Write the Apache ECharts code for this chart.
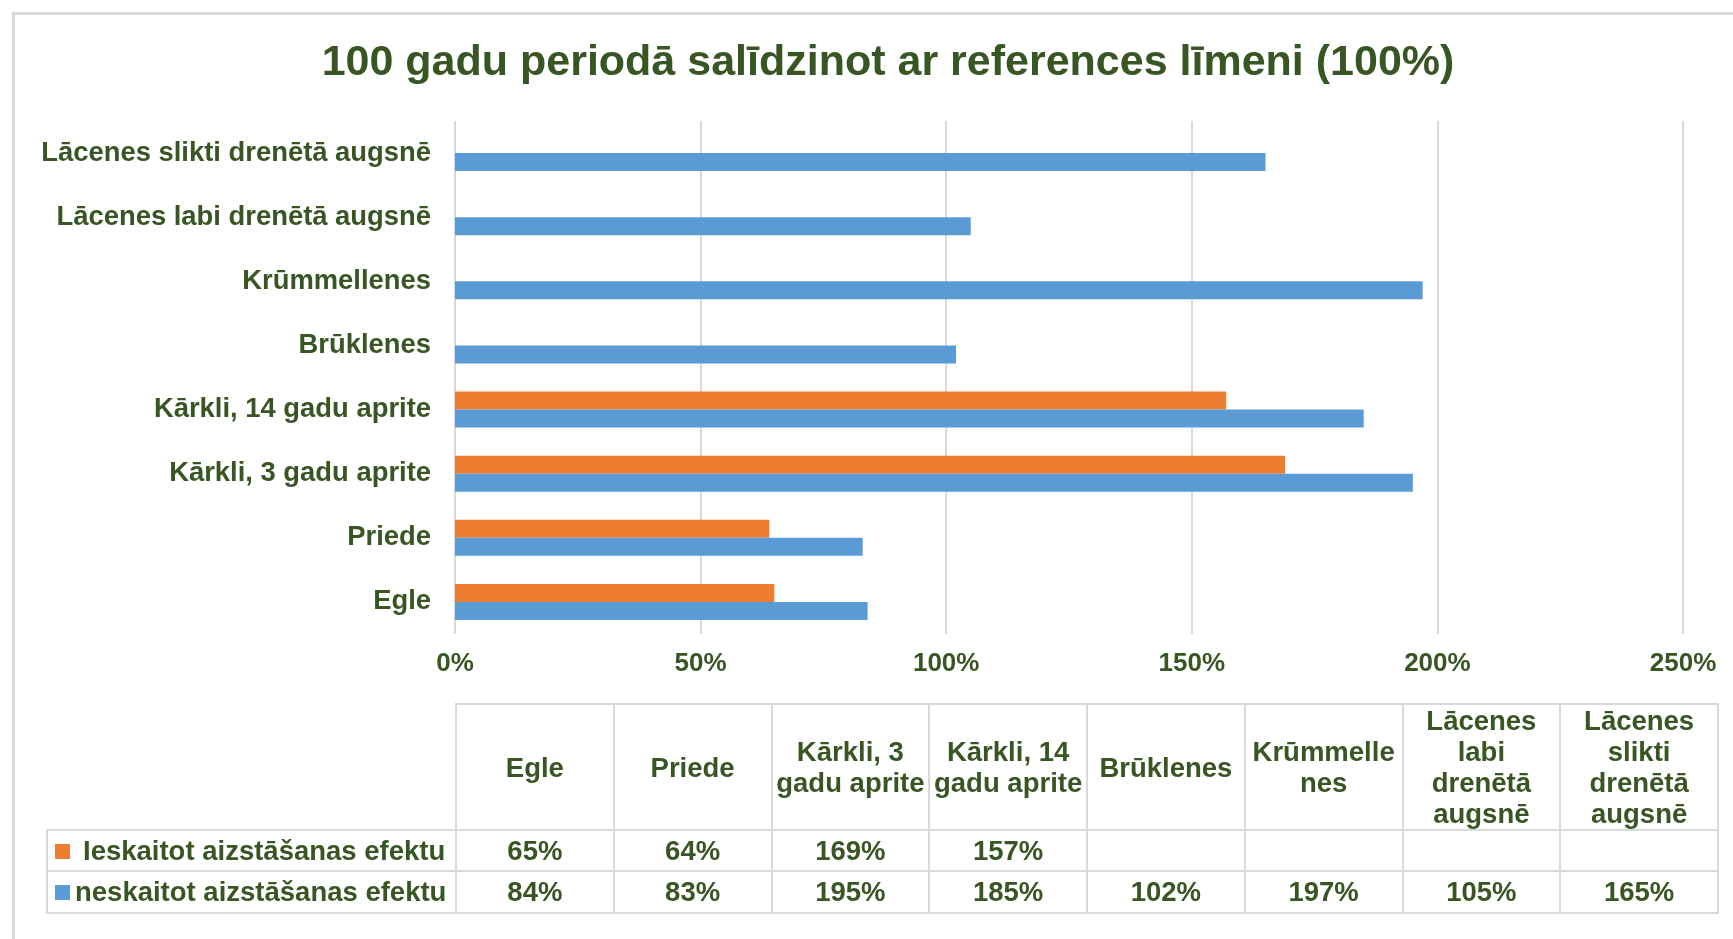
<!DOCTYPE html>
<html>
<head>
<meta charset="utf-8">
<script src="https://cdn.jsdelivr.net/npm/echarts@6/dist/echarts.min.js"></script>
<style>
  html, body { margin: 0; padding: 0; background: #fff; }
  #frame { position: absolute; left: 12px; top: 12px; width: 1760px; height: 980px;
           border: 3px solid #d9d9d9; box-sizing: border-box; }
  #main { position: absolute; left: 0; top: 0; width: 1733px; height: 939px; }
  #tbl { position: absolute; left: 46px; top: 703px; border-collapse: collapse; table-layout: fixed;
         font-family: "Liberation Sans", Arial, sans-serif; font-weight: bold; font-size: 27.5px;
         color: #375623; }
  #tbl td { border: 2px solid #d9d9d9; text-align: center; padding: 0; white-space: nowrap; overflow: hidden; }
  #tbl tr.head td { height: 124px; line-height: 31px; }
  #tbl tr.r1 td { height: 39px; }
  #tbl tr.r2 td { height: 40px; }
  #tbl td.corner { border: none; }
  #tbl td.lab { text-align: left; padding-left: 7px; }
  .key { display: inline-block; width: 15px; height: 15px; vertical-align: 1px; }
</style>
</head>
<body>
<div id="frame"></div>
<div id="main"></div>
<table id="tbl"></table>
<script>
// kategorijas (no apakšas uz augšu)
var categories = ['Egle', 'Priede', 'Kārkli, 3 gadu aprite', 'Kārkli, 14 gadu aprite',
    'Brūklenes', 'Krūmmellenes', 'Lācenes labi drenētā augsnē', 'Lācenes slikti drenētā augsnē'];
// tabulas galvenes ar rindu pārnesumiem
var headLabels = ['Egle', 'Priede', 'Kārkli, 3<br>gadu aprite', 'Kārkli, 14<br>gadu aprite',
    'Brūklenes', 'Krūmmelle<br>nes', 'Lācenes<br>labi<br>drenētā<br>augsnē', 'Lācenes<br>slikti<br>drenētā<br>augsnē'];
var seriesNames = ['Ieskaitot aizstāšanas efektu', 'neskaitot aizstāšanas efektu'];
var ieskaitot = [65, 64, 169, 157, null, null, null, null];
var neskaitot = [84, 83, 195, 185, 102, 197, 105, 165];
var xTicks = [0, 50, 100, 150, 200, 250];

var green = '#375623';
var colors = ['#ED7D31', '#5B9BD5'];
var keyGaps = [13, 5];

var chart = echarts.init(document.getElementById('main'));

var option = {
    animation: false,
    title: {
        text: '100 gadu periodā salīdzinot ar references līmeni (100%)',
        left: 883,
        top: 37,
        textAlign: 'center',
        textStyle: {
            color: green,
            fontSize: 43,
            fontWeight: 'bold',
            fontFamily: 'Liberation Sans, Arial, sans-serif'
        }
    },
    grid: {
        left: 455,
        right: 50,
        top: 121,
        bottom: 305
    },
    xAxis: {
        type: 'value',
        min: xTicks[0],
        max: xTicks[xTicks.length - 1],
        interval: 50,
        axisLine: {show: false},
        axisTick: {show: false},
        splitLine: {lineStyle: {color: '#d9d9d9', width: 2}},
        axisLabel: {
            formatter: '{value}%',
            color: green,
            fontSize: 26,
            fontWeight: 'bold',
            fontFamily: 'Liberation Sans, Arial, sans-serif',
            margin: 17
        }
    },
    yAxis: {
        type: 'category',
        data: categories,
        axisLine: {show: false},
        axisTick: {show: false},
        axisLabel: {
            color: green,
            fontSize: 27.4,
            fontWeight: 'bold',
            fontFamily: 'Liberation Sans, Arial, sans-serif',
            margin: 24
        }
    },
    series: [
        {
            name: seriesNames[0],
            type: 'bar',
            data: ieskaitot,
            barWidth: 18,
            barGap: '0%',
            itemStyle: {color: colors[0]}
        },
        {
            name: seriesNames[1],
            type: 'bar',
            data: neskaitot,
            barWidth: 18,
            barGap: '0%',
            itemStyle: {color: colors[1]}
        }
    ]
};
chart.setOption(option);

// datu tabula zem grafika
function fmt(v) {
    return v === null ? '' : v + '%';
}
var tbl = document.getElementById('tbl');
var html = '<colgroup><col style="width:409px">';
for (var i = 0; i < categories.length; i++) {
    html += '<col style="width:157.75px">';
}
html += '</colgroup>';
html += '<tr class="head"><td class="corner"></td>';
for (var i = 0; i < headLabels.length; i++) {
    html += '<td>' + headLabels[i] + '</td>';
}
html += '</tr>';
var rows = [ieskaitot, neskaitot];
for (var r = 0; r < rows.length; r++) {
    html += '<tr class="r' + (r + 1) + '"><td class="lab"><span class="key" style="background:' + colors[r] +
        ';margin-right:' + keyGaps[r] + 'px"></span>' + seriesNames[r] + '</td>';
    for (var i = 0; i < rows[r].length; i++) {
        html += '<td>' + fmt(rows[r][i]) + '</td>';
    }
    html += '</tr>';
}
tbl.innerHTML = html;
</script>
</body>
</html>
